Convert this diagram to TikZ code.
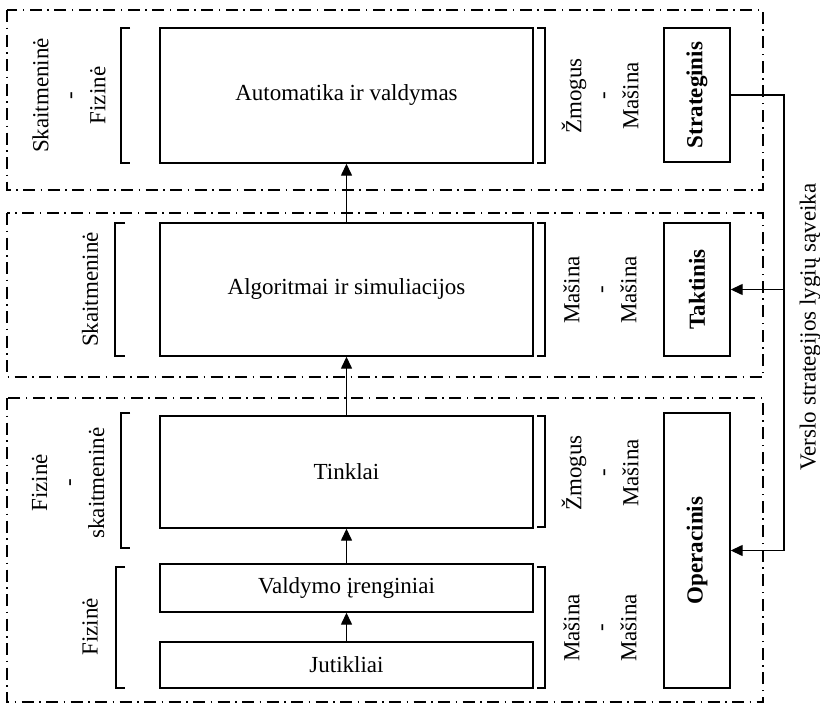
\documentclass[tikz,border=0pt]{standalone}
\usepackage{fontspec}
\setmainfont{Liberation Serif}
\usetikzlibrary{arrows.meta}
\begin{document}
\begin{tikzpicture}[x=1pt,y=-1pt,
  every node/.style={font=\fontsize{23}{28.5}\selectfont, inner sep=0pt},
  frame/.style={draw, line width=1.2pt, dash pattern=on 12pt off 5.5pt on 1.5pt off 5.5pt},
  blk/.style={draw, line width=1.4pt, minimum width=373pt},
  lvl/.style={draw, line width=1.4pt, minimum width=66pt},
  brk/.style={draw, line width=1.4pt},
  side/.style={rotate=90, align=center},
  arr/.style={draw, line width=1.4pt, -{Triangle[length=12pt,width=11pt]}},
  link/.style={draw, line width=1.4pt}
]
\useasboundingbox (0,0) rectangle (820,704);

% level frames
\draw[frame] (7,10) rectangle (763,190);
\draw[frame] (7,213) rectangle (763,377);
\draw[frame] (7,398) rectangle (763,702);

% central blocks
\node[blk, minimum height=135pt] (auto) at (346.5,95.5) {Automatika ir valdymas};
\node[blk, minimum height=133pt] (algo) at (346.5,289.5) {Algoritmai ir simuliacijos};
\node[blk, minimum height=112pt] (tink) at (346.5,472) {Tinklai};
\node[blk, minimum height=48pt] (vald) at (346.5,588) {Valdymo įrenginiai};
\node[blk, minimum height=46pt] (juti) at (346.5,665) {Jutikliai};

% flow between blocks
\draw[arr] (juti.north) -- (vald.south);
\draw[arr] (vald.north) -- (tink.south);
\draw[arr] (tink.north) -- (algo.south);
\draw[arr] (algo.north) -- (auto.south);

% management levels
\node[lvl, minimum height=134pt] (strat) at (697,95) {\rotatebox{90}{\bfseries Strateginis}};
\node[lvl, minimum height=133pt] (takt) at (697,289.5) {\rotatebox{90}{\bfseries Taktinis}};
\node[lvl, minimum height=275pt] (oper) at (697,550.5) {\rotatebox{90}{\bfseries Operacinis}};

% interaction line between levels
\coordinate (bend) at (784,550.5);
\draw[link] (strat.east) -| (bend);
\draw[arr] (bend) -- (oper.east);
\draw[arr] (takt.east -| bend) -- (takt.east);
\node[side] (verslo) at (810,327) {Verslo strategijos lygių sąveika};

% left brackets
\draw[brk] (130,28) -| (121,163) -- (130,163);
\draw[brk] (125,223) -| (115,356) -- (125,356);
\draw[brk] (130,413) -| (121,548) -- (130,548);
\draw[brk] (125,567) -| (116,688) -- (125,688);

% right brackets
\draw[brk] (537,28) -| (545,163) -- (537,163);
\draw[brk] (537,223) -| (545,356) -- (537,356);
\draw[brk] (537,416) -| (545,527) -- (537,527);
\draw[brk] (537,567) -| (545,688) -- (537,688);

% left labels
\node[side] (l1) at (69,95.5) {Skaitmeninė\\-\\Fizinė};
\node[side] (l2) at (90,289.5) {Skaitmeninė};
\node[side] (l3) at (68,483) {Fizinė\\-\\skaitmeninė};
\node[side] (l4) at (90,627) {Fizinė};

% right labels
\node[side] (r1) at (600,96) {Žmogus\\-\\Mašina};
\node[side] (r2) at (600,290) {Mašina\\-\\Mašina};
\node[side] (r3) at (600,473) {Žmogus\\-\\Mašina};
\node[side] (r4) at (600,628) {Mašina\\-\\Mašina};
\end{tikzpicture}
\end{document}
